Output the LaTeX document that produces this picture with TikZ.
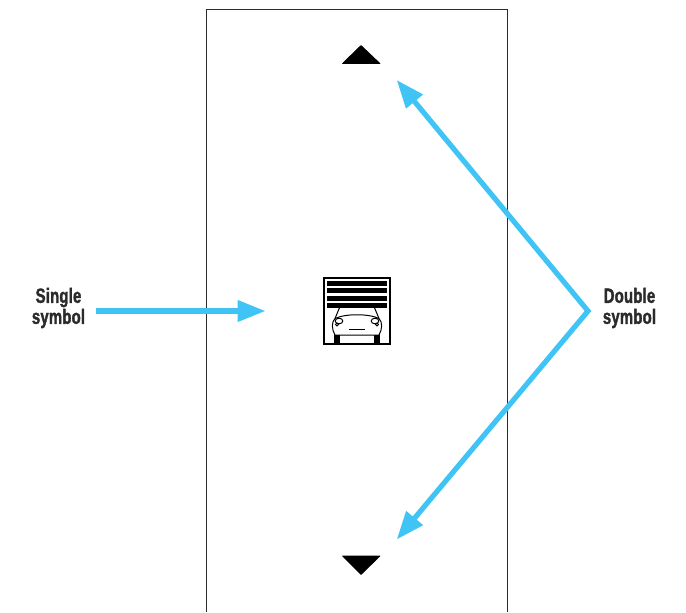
\documentclass[tikz,border=0pt]{standalone}
\usepackage{fontspec}
\usetikzlibrary{arrows.meta}
\newfontfamily\labelfont[FakeStretch=0.72, FakeBold=1.6, LetterSpace=1]{Liberation Sans Bold}
\definecolor{arrowblue}{HTML}{3FC4F5}
\definecolor{labelgrey}{HTML}{2B2B2B}
\tikzset{
    symlabel/.style={align=center, text=labelgrey, inner sep=0pt, font=\labelfont\fontsize{15.5}{15.75}\selectfont},
    blueline/.style={draw=arrowblue, line width=3.9pt, miter limit=10, arrows={-Triangle[length=21pt, width=15.5pt]}},
    slat/.style={fill=black},
    carline/.style={line width=0.75pt},
}

\begin{document}
\begin{tikzpicture}[x=0.75pt, y=-0.75pt]
    \useasboundingbox (0,0) rectangle (686,612);

    % panel, open at the bottom
    \draw[line width=0.7pt, draw=labelgrey] (206.5,612) |- (507.5,9.5) -- (507.5,612);

    % labels
    \node[symlabel] (single) at (58.5,308) {Single\\symbol};
    \node[symlabel] (double) at (629.5,308) {Double\\symbol};

    % free ends of the arrows
    \coordinate (singlestart) at (96,311);
    \coordinate (singletip) at (265.5,311);
    \coordinate (doublecorner) at (588,311);
    \coordinate (uptip) at (396.7,80);
    \coordinate (downtip) at (396.7,539.5);

    % up and down symbols
    \fill[line join=round, draw=black, line width=0.5pt] (361,45.5) -- (380,63.5) -- (342.5,63.5) -- cycle;
    \fill[line join=round, draw=black, line width=0.5pt] (361,574.5) -- (380,556) -- (342.5,556) -- cycle;

    % garage door and car
    \node[draw, line width=1.5pt, minimum width=50pt, minimum height=49.5pt, inner sep=0pt] (garage) at (357,311) {};
    \foreach \slaty in {280.5,288,295.5,303} {
        \fill[slat] (327,\slaty) rectangle (387,\slaty+5);
    }
    \fill (334,335) rectangle (340,343);
    \fill (373.5,335) rectangle (380,343);
    \draw[carline, line join=round] (339.5,307.7) -- (335,318.5)
        .. controls (331.5,322) and (331.5,329) .. (335,335)
        -- (379,335)
        .. controls (382.5,329) and (382.5,322) .. (379,318.5)
        -- (374.5,307.7);
    \draw[carline] (335,318.5) .. controls (345,313.5) and (369,313.5) .. (379,318.5);
    \draw[carline] (339,321) ellipse (3.8 and 2.8);
    \draw[carline] (375,321) ellipse (3.8 and 2.8);
    \draw[carline] (337,324.5) circle (1.5);
    \draw[carline] (377,324.5) circle (1.5);
    \draw[line width=0.9pt] (348.5,329.5) -- (365,329.5);

    % arrows
    \draw[blueline] (singlestart) -- (singletip);
    \draw[blueline, arrows={Triangle[length=21pt, width=15.5pt]-Triangle[length=21pt, width=15.5pt]}] (uptip) -- (doublecorner) -- (downtip);
\end{tikzpicture}
\end{document}
